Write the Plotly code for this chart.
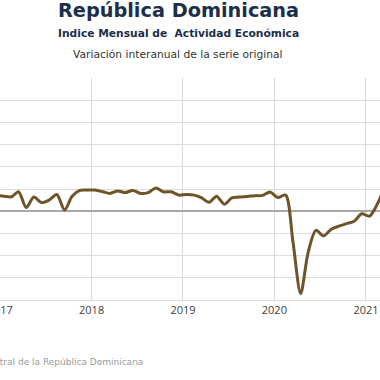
import plotly.graph_objects as go

# Monthly data (year-on-year % change), mid-month points
months = [
    "2016-12",
    "2017-01", "2017-02", "2017-03", "2017-04", "2017-05", "2017-06",
    "2017-07", "2017-08", "2017-09", "2017-10", "2017-11", "2017-12",
    "2018-01", "2018-02", "2018-03", "2018-04", "2018-05", "2018-06",
    "2018-07", "2018-08", "2018-09", "2018-10", "2018-11", "2018-12",
    "2019-01", "2019-02", "2019-03", "2019-04", "2019-05", "2019-06",
    "2019-07", "2019-08", "2019-09", "2019-10", "2019-11", "2019-12",
    "2020-01", "2020-02", "2020-03", "2020-04", "2020-05", "2020-06",
    "2020-07", "2020-08", "2020-09", "2020-10", "2020-11", "2020-12",
    "2021-01", "2021-02", "2021-03",
]
variacion = [
    5.8,
    5.4, 5.2, 7.0, 1.3, 5.1, 3.1, 4.0, 6.0, 0.4, 5.4, 7.5, 7.6,
    7.6, 7.0, 6.4, 7.3, 6.7, 7.5, 6.4, 6.7, 8.4, 7.0, 7.0, 5.8,
    6.0, 5.8, 4.9, 3.2, 5.4, 2.5, 4.8, 5.1, 5.3, 5.6, 5.7, 6.9,
    4.9, 5.8, -10.8, -29.7, -14.8, -6.9, -8.9, -6.5, -5.4, -4.5, -3.6, -0.9,
    -1.8, 2.5, 8.3,
]
year_ticks = ["2017-01-01", "2018-01-01", "2019-01-01", "2020-01-01", "2021-01-01"]
year_labels = ["2017", "2018", "2019", "2020", "2021"]

dates = [m + "-15" for m in months]

fig = go.Figure()
fig.add_trace(go.Scatter(
    x=dates, y=variacion, mode="lines",
    line=dict(color="#6e5428", width=3, shape="spline", smoothing=0.8),
    hoverinfo="x+y", showlegend=False,
))

fig.update_layout(
    width=380, height=380,
    margin=dict(l=0, r=0, t=78, b=80),
    paper_bgcolor="white", plot_bgcolor="white",
    font=dict(family="Open Sans, sans-serif", color="#404040"),
    xaxis=dict(
        type="date", range=["2016-12-31", "2021-02-26"],
        tickvals=year_ticks, ticktext=year_labels,
        showgrid=True, gridcolor="#d9d9d9", gridwidth=1,
        showline=True, linecolor="#d9d9d9", linewidth=1,
        ticks="", tickfont=dict(size=11, color="#404040"),
        ticklabeloverflow="allow", automargin=False,
        zeroline=False,
    ),
    yaxis=dict(
        range=[-32, 48], dtick=8, tick0=0,
        showgrid=True, gridcolor="#dcdcdc", gridwidth=1,
        showticklabels=False, ticks="", automargin=False,
        zeroline=True, zerolinecolor="#a8a8a8", zerolinewidth=1.5,
    ),
)

ph = 222.0

def py(ypx):
    return (300 - ypx) / ph

TF = "DejaVu Sans, sans-serif"
fig.add_annotation(text="<b>República Dominicana</b>", x=178/380, y=py(10.5),
                   xref="paper", yref="paper", xanchor="center", yanchor="middle",
                   showarrow=False, font=dict(size=19.3, color="#1c2e4a", family=TF))
fig.add_annotation(text="<b>Indice Mensual de  Actividad Económica</b>", x=178/380, y=py(33.5),
                   xref="paper", yref="paper", xanchor="center", yanchor="middle",
                   showarrow=False, font=dict(size=10.7, color="#1c2e4a", family=TF))
fig.add_annotation(text="Variación interanual de la serie original", x=178/380, y=py(54.5),
                   xref="paper", yref="paper", xanchor="center", yanchor="middle",
                   showarrow=False, font=dict(size=10.7, color="#333333", family=TF))
fig.add_annotation(text="Fuente: Banco Central de la República Dominicana", x=145/380, y=py(362),
                   xref="paper", yref="paper", xanchor="right", yanchor="middle",
                   showarrow=False, font=dict(size=9, color="#9a9a9a", family=TF))

fig.write_html("out.html", config={"displayModeBar": False},
               post_script="document.body.style.margin='0';")
